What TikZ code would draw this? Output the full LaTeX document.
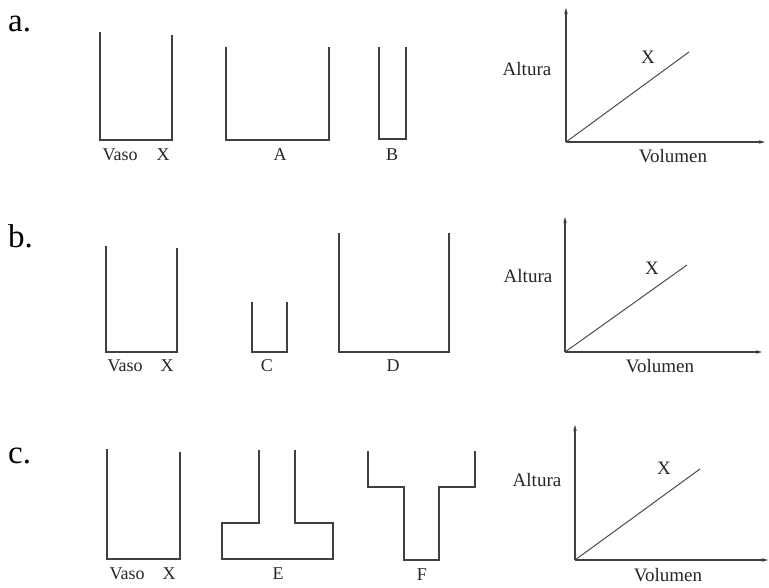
\documentclass[tikz,border=0pt]{standalone}
\usepackage{fontspec}
\setmainfont{Liberation Serif}
\usepackage{tikz}
\usetikzlibrary{arrows.meta, positioning, calc}
\tikzset{
  vessel/.style={draw=black!75, line width=1.2pt, line join=miter},
  axis/.style={draw=black!75, line width=1.2pt, -{Stealth[length=6pt, width=3.5pt]}},
  trend/.style={draw=black!70, line width=1pt},
  rowlabel/.style={anchor=base west, inner sep=0pt, font=\fontsize{33}{36}\selectfont},
  vlabel/.style={inner sep=1pt, font=\fontsize{18}{20}\selectfont, text=black!85},
  glabel/.style={inner sep=1pt, font=\fontsize{19}{21}\selectfont, text=black!85},
}

\begin{document}
\begin{tikzpicture}[x=1pt, y=-1pt]
  \useasboundingbox (0,0) rectangle (769,588);

  % row a
  \node[rowlabel] (rowa) at (8,32) {a.};
  \draw[vessel] (100,32) -- (100,140) -- (172,140) -- (172,35);
  \node[vlabel] (vasoa) at (120,155) {Vaso};
  \node[vlabel] (xa) at (163,155) {X};
  \draw[vessel] (226,47) -- (226,140) -- (329,140) -- (329,47);
  \node[vlabel] (va) at (280,155) {A};
  \draw[vessel] (379,47) -- (379,139) -- (406,139) -- (406,47);
  \node[vlabel] (vb) at (392,155) {B};

  \coordinate (oa) at (566,142);
  \coordinate (ya) at (566,8);
  \coordinate (xea) at (765,142);
  \coordinate (ta) at (689,52);
  \draw[axis] (oa) -- (ya);
  \draw[axis] (oa) -- (xea);
  \draw[trend] (oa) -- (ta);
  \node[glabel] (alta) at (527,69) {Altura};
  \node[glabel] (vola) at (673,156) {Volumen};
  \node[glabel] (ka) at (648,57) {X};

  % row b
  \node[rowlabel] (rowb) at (8,248) {b.};
  \draw[vessel] (106,246) -- (106,352) -- (177,352) -- (177,248);
  \node[vlabel] (vasob) at (125,366) {Vaso};
  \node[vlabel] (xb) at (167,366) {X};
  \draw[vessel] (252,302) -- (252,352) -- (287,352) -- (287,302);
  \node[vlabel] (vc) at (267,366) {C};
  \draw[vessel] (339,233) -- (339,352) -- (449,352) -- (449,233);
  \node[vlabel] (vd) at (393,366) {D};

  \coordinate (ob) at (565,352);
  \coordinate (yb) at (565,217);
  \coordinate (xeb) at (762,352);
  \coordinate (tb) at (687,265);
  \draw[axis] (ob) -- (yb);
  \draw[axis] (ob) -- (xeb);
  \draw[trend] (ob) -- (tb);
  \node[glabel] (altb) at (528,276) {Altura};
  \node[glabel] (volb) at (660,366) {Volumen};
  \node[glabel] (kb) at (652,268) {X};

  % row c
  \node[rowlabel] (rowc) at (8,463) {c.};
  \draw[vessel] (107,449) -- (107,559) -- (180,559) -- (180,452);
  \node[vlabel] (vasoc) at (127,574) {Vaso};
  \node[vlabel] (xc) at (169,574) {X};
  \draw[vessel] (259,450) -- (259,523) -- (222,523) -- (222,559)
    -- (333,559) -- (333,523) -- (295,523) -- (295,450);
  \node[vlabel] (ve) at (278,574) {E};
  \draw[vessel] (368,451) -- (368,487) -- (404,487) -- (404,560)
    -- (439,560) -- (439,487) -- (475,487) -- (475,451);
  \node[vlabel] (vf) at (422,575) {F};

  \coordinate (oc) at (575,560);
  \coordinate (yc) at (575,425);
  \coordinate (xec) at (768,560);
  \coordinate (tc) at (700,469);
  \draw[axis] (oc) -- (yc);
  \draw[axis] (oc) -- (xec);
  \draw[trend] (oc) -- (tc);
  \node[glabel] (altc) at (537,480) {Altura};
  \node[glabel] (volc) at (668,575) {Volumen};
  \node[glabel] (kc) at (664,468) {X};
\end{tikzpicture}
\end{document}
